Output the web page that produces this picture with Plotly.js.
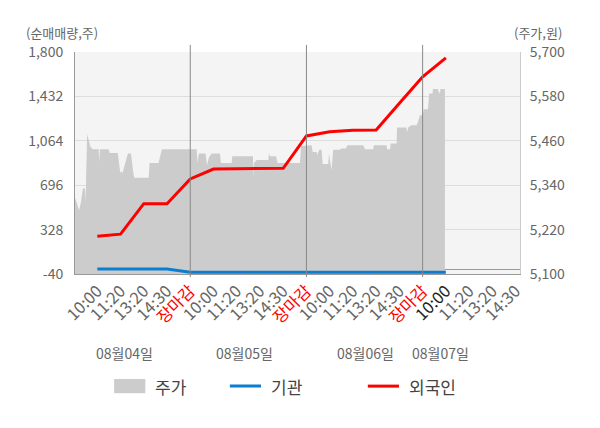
<!DOCTYPE html>
<html>
<head>
<meta charset="utf-8">
<script src="https://cdn.plot.ly/plotly-3.0.1.min.js"></script>
<style>
  html, body { margin: 0; padding: 0; background: #fff; }
  #chart { width: 600px; height: 428px; }
</style>
</head>
<body>
<div id="chart"></div>
<script>
// x positions are time slots: each day spans 5 slots (10:00, 11:20, 13:20, 14:30, close)
var dayTimes = ['10:00', '11:20', '13:20', '14:30', '장마감'];
var dayNames = ['08월04일', '08월05일', '08월06일', '08월07일'];
var dayLabelSlots = [2.19, 7.35, 12.56, 15.75];
var dayCloseSlots = [5, 10, 15];

// 주가 (price, right axis)
var priceSlot = [
    0.04, 0.22, 0.30, 0.38, 0.47, 0.48, 0.51, 0.56, 0.63, 0.70,
    0.80, 1.06, 1.08, 1.11, 1.49, 1.53, 1.88, 1.92, 1.99, 2.03,
    2.09, 2.20, 2.32, 2.45, 2.49, 2.55, 2.59, 3.21, 3.25, 3.64,
    3.67, 3.73, 3.78, 5.00,
    5.28, 5.31, 5.37, 5.66, 5.72, 5.80, 5.92, 6.28, 6.32, 6.78,
    6.81, 7.70, 7.71, 7.74, 7.86, 8.36, 8.39, 8.43, 8.69, 8.76,
    9.72, 9.77,
    10.00, 10.22, 10.27, 10.44, 10.45, 10.55, 10.65, 10.70, 10.94, 10.97,
    11.08, 11.15, 11.44, 11.50, 11.70, 11.76, 12.44, 12.52, 12.87, 12.90,
    13.45, 13.47, 13.60, 13.62, 13.88, 13.90, 14.30, 14.34, 14.38, 14.50,
    14.74, 14.80, 14.88, 15.00, 15.05, 15.23, 15.28, 15.43, 15.44, 15.66,
    15.70, 15.75, 15.77, 15.96
];
var price = [
    5307, 5273, 5295, 5331, 5331, 5295, 5331, 5478, 5462, 5444,
    5437, 5437, 5403, 5437, 5437, 5427, 5427, 5400, 5373, 5378,
    5373, 5400, 5426, 5426, 5400, 5373, 5360, 5360, 5400, 5400,
    5410, 5426, 5437, 5437,
    5437, 5400, 5426, 5426, 5394, 5415, 5426, 5426, 5400, 5400,
    5418, 5418, 5360, 5400, 5408, 5408, 5427, 5418, 5418, 5400,
    5400, 5446,
    5448, 5448, 5430, 5430, 5421, 5436, 5436, 5397, 5397, 5426,
    5381, 5436, 5436, 5439, 5439, 5448, 5448, 5437, 5437, 5448,
    5448, 5437, 5437, 5453, 5453, 5496, 5496, 5484, 5496, 5502,
    5502, 5511, 5529, 5529, 5545, 5545, 5588, 5588, 5600, 5600,
    5590, 5590, 5600, 5600
];

// 기관 / 외국인 cumulative net buying (left axis), one value per slot
var flowSlot = [1, 2, 3, 4, 5, 6, 7, 8, 9, 10, 11, 12, 13, 14, 15, 16];
var institution = [2, 2, 2, 2, -25, -25, -25, -25, -25, -25, -25, -25, -25, -25, -25, -25];
var foreigner = [273, 290, 543, 543, 748, 830, 833, 836, 836, 1104, 1139, 1151, 1153, 1375, 1595, 1752];

var flowTicks = [-40, 328, 696, 1064, 1432, 1800];
var priceTicks = [5100, 5220, 5340, 5460, 5580, 5700];

var legendNames = ['주가', '기관', '외국인'];
var legendColors = ['#cccccc', '#0a7fd2', '#ff0000'];

var FONT = '"Noto Sans CJK KR", "Noto Sans", sans-serif';
var GREY = '#666666';

var tickvals = [];
var ticktext = [];
for (var d = 0; d < dayNames.length; d++) {
    for (var k = 0; k < dayTimes.length; k++) {
        var slot = d * 5 + k + 1;
        if (slot > 19) break;
        var t = dayTimes[k];
        if (t === '장마감') {
            t = '<span style="color:#ff0000">' + t + '</span>';
        } else if (d === 3 && k === 0) {
            t = '<span style="color:#222222">' + t + '</span>';
        }
        tickvals.push(slot);
        ticktext.push(t);
    }
}

var data = [
    {
        x: priceSlot,
        y: price,
        name: legendNames[0],
        type: 'scatter',
        mode: 'lines',
        fill: 'tozeroy',
        fillcolor: legendColors[0],
        line: {width: 0, color: legendColors[0]},
        yaxis: 'y'
    },
    {
        x: flowSlot,
        y: institution,
        name: legendNames[1],
        type: 'scatter',
        mode: 'lines',
        line: {width: 3, color: legendColors[1]},
        yaxis: 'y2'
    },
    {
        x: flowSlot,
        y: foreigner,
        name: legendNames[2],
        type: 'scatter',
        mode: 'lines',
        line: {width: 3, color: legendColors[2]},
        yaxis: 'y2'
    }
];

// day boundary lines, poking a little past the plot area like the original
var shapes = dayCloseSlots.map(function (s) {
    return {
        type: 'line', xref: 'x', yref: 'paper',
        x0: s, x1: s, y0: -0.014, y1: 1.032,
        line: {color: '#888888', width: 1}
    };
});

var annotations = dayNames.map(function (name, i) {
    return {
        text: name, xref: 'x', yref: 'paper',
        x: dayLabelSlots[i], y: -0.356,
        showarrow: false, xanchor: 'center', yanchor: 'middle',
        font: {family: FONT, size: 14, color: GREY}
    };
});
annotations.push({
    text: '(순매매량,주)', xref: 'paper', yref: 'paper',
    x: -0.03, y: 1.09, xanchor: 'center', yanchor: 'middle', showarrow: false,
    font: {family: FONT, size: 13, color: GREY}
});
annotations.push({
    text: '(주가,원)', xref: 'paper', yref: 'paper',
    x: 1.04, y: 1.09, xanchor: 'center', yanchor: 'middle', showarrow: false,
    font: {family: FONT, size: 13, color: GREY}
});

// legend row below the chart (box for the area, short lines for the flows)
var legendX = [0.088, 0.348, 0.658];
var legendY = -0.505;
var keyW = 0.07;
legendNames.forEach(function (name, i) {
    var x0 = legendX[i];
    if (i === 0) {
        shapes.push({
            type: 'rect', xref: 'paper', yref: 'paper',
            x0: x0, x1: x0 + keyW, y0: legendY - 0.032, y1: legendY + 0.032,
            fillcolor: legendColors[i], line: {width: 0}
        });
    } else {
        shapes.push({
            type: 'line', xref: 'paper', yref: 'paper',
            x0: x0, x1: x0 + keyW, y0: legendY, y1: legendY,
            line: {color: legendColors[i], width: 3}
        });
    }
    annotations.push({
        text: name, xref: 'paper', yref: 'paper',
        x: x0 + keyW + 0.018, y: legendY,
        xanchor: 'left', yanchor: 'middle', showarrow: false,
        font: {family: FONT, size: 17, color: '#444444'}
    });
});

var layout = {
    width: 600,
    height: 428,
    margin: {l: 75, r: 80, t: 52, b: 154, pad: 0},
    paper_bgcolor: '#ffffff',
    plot_bgcolor: '#f4f4f4',
    font: {family: FONT, size: 14, color: GREY},
    showlegend: false,
    xaxis: {
        range: [0.04, 19.19],
        tickvals: tickvals,
        ticktext: ticktext,
        tickangle: -45,
        tickfont: {family: FONT, size: 16.5, color: GREY},
        showgrid: false,
        zeroline: false,
        showline: true,
        linecolor: '#999999',
        linewidth: 1,
        ticks: ''
    },
    yaxis: {
        side: 'right',
        range: [5100, 5700],
        tickvals: priceTicks,
        ticktext: priceTicks.map(function (v) { return v.toLocaleString('en-US'); }),
        tickfont: {family: FONT, size: 14, color: GREY},
        showgrid: true,
        gridcolor: '#dddddd',
        zeroline: false,
        showline: true,
        linecolor: '#cccccc',
        ticks: '',
        ticklabelstandoff: 6
    },
    yaxis2: {
        overlaying: 'y',
        side: 'left',
        range: [-40, 1800],
        tickvals: flowTicks,
        ticktext: flowTicks.map(function (v) { return v.toLocaleString('en-US'); }),
        tickfont: {family: FONT, size: 14, color: GREY},
        showgrid: false,
        zeroline: true,
        zerolinecolor: '#999999',
        zerolinewidth: 1,
        showline: true,
        linecolor: '#999999',
        ticks: '',
        ticklabelstandoff: 8
    },
    shapes: shapes,
    annotations: annotations
};

Plotly.newPlot('chart', data, layout, {displayModeBar: false, staticPlot: true});
</script>
</body>
</html>
